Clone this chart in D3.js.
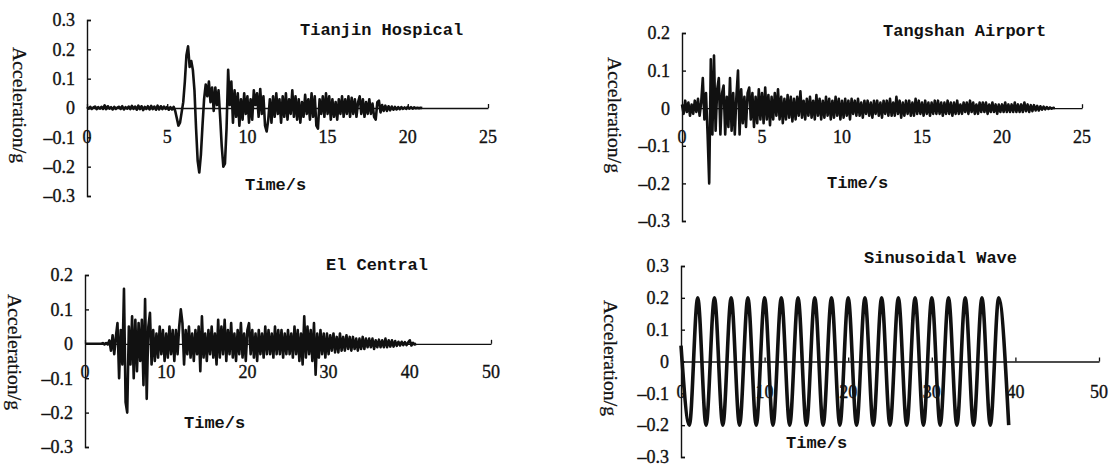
<!DOCTYPE html>
<html>
<head>
<meta charset="utf-8">
<script src="https://cdn.jsdelivr.net/npm/d3@7"></script>
<style>
  body { margin: 0; background: #fff; }
  svg { display: block; }
  .num { font-family: "Liberation Serif", "Times New Roman", serif; font-size: 18px; fill: #111; stroke: #111; stroke-width: 0.35; }
  .ylab { font-family: "Liberation Serif", "Times New Roman", serif; font-size: 19px; fill: #111; stroke: #111; stroke-width: 0.25; }
  .mono { font-family: "Liberation Mono", "DejaVu Sans Mono", monospace; font-weight: bold; font-size: 17px; fill: #111; }
</style>
</head>
<body>
<script>
// ground motion records, acceleration in g
// Tianjin Hospital, sampled every 0.1 s (one row = 1 s)
var tianjinAcc = [
  0.003,-0.002,0.004,-0.003,0.002,0.005,-0.004,0.003,-0.002,0.004,
  -0.003,0.009,-0.004,0.006,-0.002,0.003,-0.005,0.004,-0.003,0.002,
  0.004,-0.003,0.006,-0.005,0.003,-0.002,0.005,-0.004,0.007,-0.003,
  0.005,-0.006,0.008,-0.004,0.006,-0.007,0.004,-0.003,0.006,-0.005,
  0.007,-0.004,0.005,-0.006,0.008,-0.005,0.006,-0.004,0.005,-0.003,
  0.004,-0.006,0.003,-0.005,0.004,-0.01,-0.035,-0.06,-0.05,-0.015,
  0.02,0.09,0.18,0.21,0.14,0.16,0.13,0.06,-0.07,-0.18,
  -0.22,-0.16,-0.06,0.03,0.08,0.04,0.09,0.02,0.07,-0.01,
  0.07,0.01,0.06,-0.03,-0.13,-0.2,-0.19,-0.07,0.13,0.01,
  0.09,-0.05,0.06,-0.03,0.05,-0.06,0.03,-0.04,0.05,-0.02,
  0.04,-0.05,0.03,-0.04,0.06,0.01,0.05,-0.03,0.065,-0.02,
  0.04,-0.06,-0.08,-0.04,0.03,-0.05,0.04,-0.03,0.05,-0.02,
  0.03,-0.05,0.04,-0.03,0.05,-0.04,0.03,-0.02,0.06,-0.03,
  0.04,-0.04,0.03,-0.05,0.02,-0.03,0.045,-0.02,0.03,-0.04,
  0.05,-0.03,0.04,-0.06,-0.07,0.03,-0.02,0.04,-0.03,0.05,
  -0.02,0.04,-0.04,0.03,-0.03,0.02,-0.04,0.03,-0.02,0.04,
  -0.03,0.03,-0.02,0.04,-0.03,0.035,-0.02,0.03,-0.03,0.02,
  0.04,-0.02,0.03,-0.03,0.02,-0.02,0.03,-0.02,0.015,-0.03,
  -0.04,0.02,0.025,-0.015,0.01,-0.01,0.008,-0.01,0.006,-0.008,
  0.005,-0.006,0.004,-0.005,0.003,-0.004,0.003,-0.003,0.002,-0.003,
  0.004,-0.002,0.003,-0.002,0.002,-0.001,0.001,-0.001,0.001,0
];

// Tangshan Airport, every 0.1 s
var tangshanAcc = [
  0.01,-0.015,0.02,-0.01,0.015,-0.02,0.01,-0.015,0.02,-0.01,
  0.025,-0.02,0.015,0.08,-0.03,0.04,-0.07,-0.2,0.13,-0.07,
  0.14,-0.06,0.05,0.08,-0.07,0.04,0.06,-0.07,0.03,-0.05,
  0.08,-0.06,0.04,-0.07,0.03,0.1,-0.07,0.05,-0.04,0.03,
  -0.05,0.04,0.055,-0.03,0.04,-0.05,0.03,-0.04,0.05,-0.03,
  0.04,-0.04,0.055,-0.03,0.035,-0.045,0.03,-0.03,0.04,-0.02,
  0.05,-0.03,0.03,-0.04,0.025,-0.03,0.035,-0.025,0.03,-0.035,
  0.025,-0.03,0.03,-0.02,0.045,-0.025,0.02,-0.03,0.025,-0.02,
  0.03,-0.025,0.02,-0.03,0.035,-0.02,0.025,-0.03,0.02,-0.025,
  0.03,-0.02,0.025,-0.03,0.02,-0.025,0.03,-0.02,0.025,-0.03,
  0.02,-0.025,0.025,-0.02,0.02,-0.03,0.025,-0.015,0.02,-0.02,
  0.025,-0.02,0.015,-0.025,0.02,-0.015,0.02,-0.02,0.015,-0.025,
  0.02,-0.015,0.02,-0.02,0.015,-0.025,0.02,-0.015,0.02,-0.02,
  0.025,-0.02,0.015,-0.02,0.03,-0.015,0.02,-0.025,0.015,-0.02,
  0.02,-0.015,0.02,-0.02,0.015,-0.02,0.025,-0.015,0.02,-0.015,
  0.015,-0.02,0.02,-0.015,0.015,-0.02,0.015,-0.015,0.02,-0.015,
  0.02,-0.015,0.015,-0.02,0.015,-0.015,0.02,-0.015,0.015,-0.02,
  0.015,-0.015,0.02,-0.015,0.01,-0.015,0.015,-0.01,0.015,-0.015,
  0.02,-0.01,0.015,-0.015,0.01,-0.015,0.015,-0.01,0.015,-0.01,
  0.015,-0.015,0.01,-0.01,0.015,-0.01,0.01,-0.015,0.01,-0.01,
  0.01,-0.01,0.015,-0.01,0.01,-0.01,0.01,-0.01,0.015,-0.01,
  0.01,-0.01,0.01,-0.01,0.015,-0.008,0.01,-0.01,0.008,-0.008,
  0.008,-0.006,0.006,-0.006,0.005,-0.004,0.004,-0.003,0.003,-0.002,
  0.002,-0.001,0.001,0
];

// El Centro, every 0.2 s
var elCentroAcc = [
  0,0,0,0,0,
  0,0,0,0,0,
  0,0.002,-0.002,0.002,-0.002,
  0.01,-0.02,0.025,-0.03,0.02,
  0.06,-0.1,0.04,-0.06,0.16,
  -0.17,-0.2,0.05,-0.06,0.08,
  -0.1,0.07,-0.08,0.06,-0.05,
  0.07,-0.12,0.13,-0.16,0.05,
  0.09,-0.06,0.04,-0.05,0.03,
  -0.04,0.05,-0.03,0.04,-0.05,
  0.03,-0.04,0.05,-0.03,0.04,
  -0.05,0.04,-0.03,0.05,0.1,
  0.06,-0.06,0.04,-0.03,0.05,
  -0.04,0.03,-0.05,0.04,-0.03,
  0.05,-0.08,0.08,-0.04,0.03,
  -0.05,0.04,-0.03,0.05,-0.04,
  0.03,-0.06,0.07,-0.04,0.05,
  -0.03,0.07,-0.05,0.04,-0.03,
  0.06,-0.04,0.03,-0.05,0.04,
  -0.03,0.06,-0.04,0.03,-0.05,
  0.04,0.06,-0.03,0.04,-0.04,
  0.03,-0.05,0.04,-0.03,0.03,
  -0.04,0.05,-0.03,0.04,-0.03,
  0.03,-0.04,0.05,-0.03,0.04,
  -0.03,0.04,-0.04,0.03,-0.03,
  0.04,-0.03,0.03,-0.04,0.05,
  -0.03,0.04,-0.05,0.03,-0.06,
  0.08,-0.04,0.05,-0.03,0.04,
  -0.05,0.06,-0.09,0.03,-0.04,
  0.04,-0.03,0.03,-0.04,0.03,
  -0.03,0.025,-0.02,0.03,-0.025,
  0.02,-0.025,0.03,-0.02,0.02,
  -0.02,0.025,-0.015,0.02,-0.02,
  0.02,-0.015,0.015,-0.02,0.015,
  -0.015,0.02,-0.015,0.015,-0.01,
  0.015,-0.01,0.015,-0.015,0.01,
  -0.01,0.012,-0.01,0.01,-0.01,
  0.015,-0.01,0.01,-0.008,0.01,
  -0.008,0.008,-0.006,0.006,-0.005,
  0.006,-0.004,0.005,-0.004,0.004,
  0.01,-0.005,0.003,-0.002,0
];

// sinusoidal input: times (s) of the crests and troughs and their values
var sineTimes = [0,1,2,3,4,5,6,7,8,9,10,11,12,13,14,15,16,17,18,19,
                 20,21,22,23,24,25,26,27,28,29,30,31,32,33,34,35,36,37,38,39.2];
var sineAcc = [0.05,-0.2,0.2,-0.2,0.2,-0.2,0.2,-0.2,0.2,-0.2,
               0.2,-0.2,0.2,-0.2,0.2,-0.2,0.2,-0.2,0.2,-0.2,
               0.2,-0.2,0.2,-0.2,0.2,-0.2,0.2,-0.2,0.2,-0.2,
               0.2,-0.2,0.2,-0.2,0.2,-0.2,0.2,-0.2,0.2,-0.2];

var titles = ["Tianjin Hospical", "Tangshan Airport", "El Central", "Sinusoidal Wave"];
var xTicks25 = [0, 5, 10, 15, 20, 25];
var xTicks50 = [0, 10, 20, 30, 40, 50];
var yTicks3 = [-0.3, -0.2, -0.1, 0, 0.1, 0.2, 0.3];
var yTicks2 = [-0.3, -0.2, -0.1, 0, 0.1, 0.2];

var w = 1115, h = 466;
var svg = d3.select("body").append("svg")
    .attr("width", w)
    .attr("height", h);

var panels = [
  { title: titles[0], pts: tianjinAcc.map(function(a, i) { return [i * 0.1, a]; }),
    xMax: 25, xTicks: xTicks25, yTicks: yTicks3, curve: d3.curveLinear, sw: 2.6,
    left: 87, right: 488, top: 20, bottom: 196, xLabY: 143,
    titleX: 300, titleY: 35, timeX: 245, timeY: 190, ylabX: 20, ylabY: 105 },
  { title: titles[1], pts: tangshanAcc.map(function(a, i) { return [i * 0.1, a]; }),
    xMax: 25, xTicks: xTicks25, yTicks: yTicks2, curve: d3.curveLinear, sw: 2.6,
    left: 682, right: 1082, top: 33, bottom: 221, xLabY: 143,
    titleX: 883, titleY: 36, timeX: 827, timeY: 188, ylabX: 615, ylabY: 115 },
  { title: titles[2], pts: elCentroAcc.map(function(a, i) { return [i * 0.2, a]; }),
    xMax: 50, xTicks: xTicks50, yTicks: yTicks2, curve: d3.curveLinear, sw: 2.6,
    left: 85, right: 491, top: 275, bottom: 447, xLabY: 378,
    titleX: 326, titleY: 270, timeX: 184, timeY: 428, ylabX: 15, ylabY: 352 },
  { title: titles[3], pts: d3.zip(sineTimes, sineAcc),
    xMax: 50, xTicks: xTicks50, yTicks: yTicks3, curve: d3.curveMonotoneX, sw: 3.6,
    left: 681, right: 1099, top: 266, bottom: 457, xLabY: 398,
    titleX: 864, titleY: 263, timeX: 786, timeY: 448, ylabX: 611, ylabY: 358 }
];

function fmtY(d) {
  if (d === 0) return "0";
  return (d < 0 ? "\u2013" : "") + Math.abs(d).toFixed(1);
}

panels.forEach(function(p) {
  var x = d3.scaleLinear().domain([0, p.xMax]).range([p.left, p.right]);
  var y = d3.scaleLinear().domain([p.yTicks[0], p.yTicks[p.yTicks.length - 1]]).range([p.bottom, p.top]);
  var g = svg.append("g");

  // y axis, ticks point inward
  g.append("g")
      .attr("transform", "translate(" + p.left + ",0)")
      .call(d3.axisRight(y).tickValues(p.yTicks).tickSize(4).tickFormat(""))
      .call(function(s) {
        s.selectAll("path,line").attr("stroke", "#111").attr("stroke-width", 1.4);
      });

  // x axis along zero, small upward ticks
  g.append("g")
      .attr("transform", "translate(0," + y(0) + ")")
      .call(d3.axisTop(x).tickValues(p.xTicks).tickSize(4).tickSizeOuter(0).tickFormat(""))
      .call(function(s) {
        s.select(".domain").attr("stroke", "#111").attr("stroke-width", 1.3);
        s.selectAll("line").attr("stroke", "#111").attr("stroke-width", 1.3);
      });

  // record
  g.append("path")
      .datum(p.pts)
      .attr("fill", "none")
      .attr("stroke", "#111")
      .attr("stroke-width", p.sw)
      .attr("stroke-linejoin", "round")
      .attr("d", d3.line()
          .curve(p.curve)
          .x(function(d) { return x(d[0]); })
          .y(function(d) { return y(d[1]); }));

  // tick labels
  g.selectAll(".yl").data(p.yTicks).enter().append("text")
      .attr("class", "num")
      .attr("x", p.left - 12)
      .attr("y", function(d) { return y(d); })
      .attr("dy", "0.35em")
      .attr("text-anchor", "end")
      .text(fmtY);

  g.selectAll(".xl").data(p.xTicks).enter().append("text")
      .attr("class", "num")
      .attr("x", function(d) { return x(d); })
      .attr("y", p.xLabY)
      .attr("text-anchor", "middle")
      .text(function(d) { return d; });

  g.append("text").attr("class", "mono")
      .attr("x", p.titleX).attr("y", p.titleY)
      .text(p.title);

  g.append("text").attr("class", "mono")
      .attr("x", p.timeX).attr("y", p.timeY)
      .text("Time/s");

  g.append("text").attr("class", "ylab")
      .attr("transform", "translate(" + p.ylabX + "," + p.ylabY + ") rotate(90)")
      .attr("text-anchor", "middle")
      .attr("dy", "0.35em")
      .attr("textLength", 116)
      .attr("lengthAdjust", "spacingAndGlyphs")
      .text("Acceleration/g");
});
</script>
</body>
</html>
